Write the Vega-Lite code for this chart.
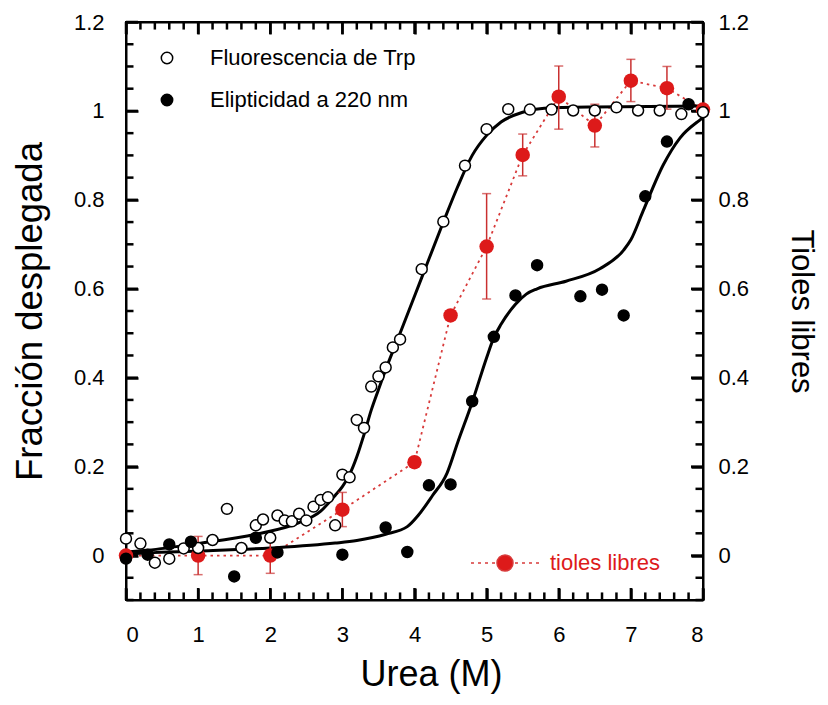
{
  "$schema": "https://vega.github.io/schema/vega-lite/v6.json",
  "width": 577,
  "height": 578,
  "autosize": {"type": "none"},
  "padding": {"left": 126, "top": 22, "right": 125, "bottom": 105},
  "background": "white",
  "config": {
    "view": {"stroke": "black", "strokeWidth": 2},
    "font": "Liberation Sans",
    "axis": {"grid": false, "labelFontSize": 22, "titleFontSize": 34, "labelColor": "black", "titleColor": "black", "titleFontWeight": "normal", "labelFont": "Liberation Sans", "titleFont": "Liberation Sans"}
  },
  "datasets": {
    "marcasX": [
      {"v": 0, "mayor": true}, {"v": 0.2, "mayor": false}, {"v": 0.4, "mayor": false}, {"v": 0.6, "mayor": false}, {"v": 0.8, "mayor": false},
      {"v": 1, "mayor": true}, {"v": 1.2, "mayor": false}, {"v": 1.4, "mayor": false}, {"v": 1.6, "mayor": false}, {"v": 1.8, "mayor": false},
      {"v": 2, "mayor": true}, {"v": 2.2, "mayor": false}, {"v": 2.4, "mayor": false}, {"v": 2.6, "mayor": false}, {"v": 2.8, "mayor": false},
      {"v": 3, "mayor": true}, {"v": 3.2, "mayor": false}, {"v": 3.4, "mayor": false}, {"v": 3.6, "mayor": false}, {"v": 3.8, "mayor": false},
      {"v": 4, "mayor": true}, {"v": 4.2, "mayor": false}, {"v": 4.4, "mayor": false}, {"v": 4.6, "mayor": false}, {"v": 4.8, "mayor": false},
      {"v": 5, "mayor": true}, {"v": 5.2, "mayor": false}, {"v": 5.4, "mayor": false}, {"v": 5.6, "mayor": false}, {"v": 5.8, "mayor": false},
      {"v": 6, "mayor": true}, {"v": 6.2, "mayor": false}, {"v": 6.4, "mayor": false}, {"v": 6.6, "mayor": false}, {"v": 6.8, "mayor": false},
      {"v": 7, "mayor": true}, {"v": 7.2, "mayor": false}, {"v": 7.4, "mayor": false}, {"v": 7.6, "mayor": false}, {"v": 7.8, "mayor": false},
      {"v": 8, "mayor": true}
    ],
    "marcasY": [
      {"v": -0.1, "mayor": false}, {"v": -0.05, "mayor": false}, {"v": 0, "mayor": true}, {"v": 0.05, "mayor": false},
      {"v": 0.1, "mayor": false}, {"v": 0.15, "mayor": false}, {"v": 0.2, "mayor": true}, {"v": 0.25, "mayor": false},
      {"v": 0.3, "mayor": false}, {"v": 0.35, "mayor": false}, {"v": 0.4, "mayor": true}, {"v": 0.45, "mayor": false},
      {"v": 0.5, "mayor": false}, {"v": 0.55, "mayor": false}, {"v": 0.6, "mayor": true}, {"v": 0.65, "mayor": false},
      {"v": 0.7, "mayor": false}, {"v": 0.75, "mayor": false}, {"v": 0.8, "mayor": true}, {"v": 0.85, "mayor": false},
      {"v": 0.9, "mayor": false}, {"v": 0.95, "mayor": false}, {"v": 1.0, "mayor": true}, {"v": 1.05, "mayor": false},
      {"v": 1.1, "mayor": false}, {"v": 1.15, "mayor": false}, {"v": 1.2, "mayor": true}
    ],
    "tioles": [
      {"urea": 0, "f": 0.0, "lo": -0.01, "hi": 0.01, "serie": "tioles libres"},
      {"urea": 1, "f": 0.0, "lo": -0.043, "hi": 0.043, "serie": "tioles libres"},
      {"urea": 2, "f": 0.0, "lo": -0.04, "hi": 0.04, "serie": "tioles libres"},
      {"urea": 3, "f": 0.103, "lo": 0.065, "hi": 0.142, "serie": "tioles libres"},
      {"urea": 4, "f": 0.21, "lo": 0.2, "hi": 0.22, "serie": "tioles libres"},
      {"urea": 4.5, "f": 0.54, "lo": 0.53, "hi": 0.55, "serie": "tioles libres"},
      {"urea": 5, "f": 0.695, "lo": 0.577, "hi": 0.814, "serie": "tioles libres"},
      {"urea": 5.5, "f": 0.901, "lo": 0.854, "hi": 0.948, "serie": "tioles libres"},
      {"urea": 6, "f": 1.032, "lo": 0.959, "hi": 1.101, "serie": "tioles libres"},
      {"urea": 6.5, "f": 0.967, "lo": 0.919, "hi": 1.015, "serie": "tioles libres"},
      {"urea": 7, "f": 1.068, "lo": 1.021, "hi": 1.116, "serie": "tioles libres"},
      {"urea": 7.5, "f": 1.051, "lo": 1.004, "hi": 1.1, "serie": "tioles libres"},
      {"urea": 8, "f": 1.003, "lo": 0.993, "hi": 1.013, "serie": "tioles libres"}
    ],
    "puntos": [
      {"urea": 0, "f": 0.038, "serie": "Fluorescencia de Trp"},
      {"urea": 0.2, "f": 0.027, "serie": "Fluorescencia de Trp"},
      {"urea": 0.4, "f": -0.016, "serie": "Fluorescencia de Trp"},
      {"urea": 0.6, "f": -0.007, "serie": "Fluorescencia de Trp"},
      {"urea": 0.8, "f": 0.016, "serie": "Fluorescencia de Trp"},
      {"urea": 1.0, "f": 0.017, "serie": "Fluorescencia de Trp"},
      {"urea": 1.2, "f": 0.035, "serie": "Fluorescencia de Trp"},
      {"urea": 1.4, "f": 0.105, "serie": "Fluorescencia de Trp"},
      {"urea": 1.6, "f": 0.017, "serie": "Fluorescencia de Trp"},
      {"urea": 1.8, "f": 0.068, "serie": "Fluorescencia de Trp"},
      {"urea": 1.9, "f": 0.081, "serie": "Fluorescencia de Trp"},
      {"urea": 2.0, "f": 0.04, "serie": "Fluorescencia de Trp"},
      {"urea": 2.1, "f": 0.09, "serie": "Fluorescencia de Trp"},
      {"urea": 2.2, "f": 0.079, "serie": "Fluorescencia de Trp"},
      {"urea": 2.3, "f": 0.077, "serie": "Fluorescencia de Trp"},
      {"urea": 2.4, "f": 0.094, "serie": "Fluorescencia de Trp"},
      {"urea": 2.5, "f": 0.079, "serie": "Fluorescencia de Trp"},
      {"urea": 2.6, "f": 0.11, "serie": "Fluorescencia de Trp"},
      {"urea": 2.7, "f": 0.125, "serie": "Fluorescencia de Trp"},
      {"urea": 2.8, "f": 0.131, "serie": "Fluorescencia de Trp"},
      {"urea": 2.9, "f": 0.068, "serie": "Fluorescencia de Trp"},
      {"urea": 3.0, "f": 0.182, "serie": "Fluorescencia de Trp"},
      {"urea": 3.1, "f": 0.176, "serie": "Fluorescencia de Trp"},
      {"urea": 3.2, "f": 0.305, "serie": "Fluorescencia de Trp"},
      {"urea": 3.3, "f": 0.287, "serie": "Fluorescencia de Trp"},
      {"urea": 3.4, "f": 0.38, "serie": "Fluorescencia de Trp"},
      {"urea": 3.5, "f": 0.403, "serie": "Fluorescencia de Trp"},
      {"urea": 3.6, "f": 0.423, "serie": "Fluorescencia de Trp"},
      {"urea": 3.7, "f": 0.468, "serie": "Fluorescencia de Trp"},
      {"urea": 3.8, "f": 0.486, "serie": "Fluorescencia de Trp"},
      {"urea": 4.1, "f": 0.644, "serie": "Fluorescencia de Trp"},
      {"urea": 4.4, "f": 0.751, "serie": "Fluorescencia de Trp"},
      {"urea": 4.7, "f": 0.877, "serie": "Fluorescencia de Trp"},
      {"urea": 5.0, "f": 0.959, "serie": "Fluorescencia de Trp"},
      {"urea": 5.3, "f": 1.004, "serie": "Fluorescencia de Trp"},
      {"urea": 5.6, "f": 1.003, "serie": "Fluorescencia de Trp"},
      {"urea": 5.9, "f": 1.003, "serie": "Fluorescencia de Trp"},
      {"urea": 6.2, "f": 1.001, "serie": "Fluorescencia de Trp"},
      {"urea": 6.5, "f": 1.001, "serie": "Fluorescencia de Trp"},
      {"urea": 6.8, "f": 1.008, "serie": "Fluorescencia de Trp"},
      {"urea": 7.1, "f": 1.001, "serie": "Fluorescencia de Trp"},
      {"urea": 7.4, "f": 1.001, "serie": "Fluorescencia de Trp"},
      {"urea": 7.7, "f": 0.993, "serie": "Fluorescencia de Trp"},
      {"urea": 8.0, "f": 0.997, "serie": "Fluorescencia de Trp"},
      {"urea": 0, "f": -0.007, "serie": "Elipticidad a 220 nm"},
      {"urea": 0.3, "f": 0.002, "serie": "Elipticidad a 220 nm"},
      {"urea": 0.6, "f": 0.025, "serie": "Elipticidad a 220 nm"},
      {"urea": 0.9, "f": 0.031, "serie": "Elipticidad a 220 nm"},
      {"urea": 1.5, "f": -0.047, "serie": "Elipticidad a 220 nm"},
      {"urea": 1.8, "f": 0.04, "serie": "Elipticidad a 220 nm"},
      {"urea": 2.1, "f": 0.007, "serie": "Elipticidad a 220 nm"},
      {"urea": 3.0, "f": 0.002, "serie": "Elipticidad a 220 nm"},
      {"urea": 3.6, "f": 0.063, "serie": "Elipticidad a 220 nm"},
      {"urea": 3.9, "f": 0.008, "serie": "Elipticidad a 220 nm"},
      {"urea": 4.2, "f": 0.158, "serie": "Elipticidad a 220 nm"},
      {"urea": 4.5, "f": 0.16, "serie": "Elipticidad a 220 nm"},
      {"urea": 4.8, "f": 0.347, "serie": "Elipticidad a 220 nm"},
      {"urea": 5.1, "f": 0.492, "serie": "Elipticidad a 220 nm"},
      {"urea": 5.4, "f": 0.585, "serie": "Elipticidad a 220 nm"},
      {"urea": 5.7, "f": 0.653, "serie": "Elipticidad a 220 nm"},
      {"urea": 6.3, "f": 0.583, "serie": "Elipticidad a 220 nm"},
      {"urea": 6.6, "f": 0.598, "serie": "Elipticidad a 220 nm"},
      {"urea": 6.9, "f": 0.54, "serie": "Elipticidad a 220 nm"},
      {"urea": 7.2, "f": 0.808, "serie": "Elipticidad a 220 nm"},
      {"urea": 7.5, "f": 0.931, "serie": "Elipticidad a 220 nm"},
      {"urea": 7.8, "f": 1.015, "serie": "Elipticidad a 220 nm"}
    ],
    "ajustes": [
      {"urea": 0, "f": 0.008, "curva": "fluorescencia"},
      {"urea": 0.3, "f": 0.012, "curva": "fluorescencia"},
      {"urea": 1.0, "f": 0.027, "curva": "fluorescencia"},
      {"urea": 1.8, "f": 0.048, "curva": "fluorescencia"},
      {"urea": 2.4, "f": 0.074, "curva": "fluorescencia"},
      {"urea": 2.7, "f": 0.1, "curva": "fluorescencia"},
      {"urea": 2.9, "f": 0.135, "curva": "fluorescencia"},
      {"urea": 3.0, "f": 0.155, "curva": "fluorescencia"},
      {"urea": 3.1, "f": 0.182, "curva": "fluorescencia"},
      {"urea": 3.2, "f": 0.222, "curva": "fluorescencia"},
      {"urea": 3.3, "f": 0.272, "curva": "fluorescencia"},
      {"urea": 3.4, "f": 0.327, "curva": "fluorescencia"},
      {"urea": 3.5, "f": 0.373, "curva": "fluorescencia"},
      {"urea": 3.6, "f": 0.418, "curva": "fluorescencia"},
      {"urea": 3.8, "f": 0.5, "curva": "fluorescencia"},
      {"urea": 4.1, "f": 0.625, "curva": "fluorescencia"},
      {"urea": 4.4, "f": 0.75, "curva": "fluorescencia"},
      {"urea": 4.6, "f": 0.83, "curva": "fluorescencia"},
      {"urea": 4.8, "f": 0.9, "curva": "fluorescencia"},
      {"urea": 5.0, "f": 0.945, "curva": "fluorescencia"},
      {"urea": 5.2, "f": 0.975, "curva": "fluorescencia"},
      {"urea": 5.5, "f": 0.997, "curva": "fluorescencia"},
      {"urea": 5.8, "f": 1.006, "curva": "fluorescencia"},
      {"urea": 6.5, "f": 1.009, "curva": "fluorescencia"},
      {"urea": 8.0, "f": 1.011, "curva": "fluorescencia"},
      {"urea": 0, "f": 0.003, "curva": "elipticidad"},
      {"urea": 0.3, "f": 0.006, "curva": "elipticidad"},
      {"urea": 1.0, "f": 0.01, "curva": "elipticidad"},
      {"urea": 2.0, "f": 0.017, "curva": "elipticidad"},
      {"urea": 2.9, "f": 0.028, "curva": "elipticidad"},
      {"urea": 3.2, "f": 0.034, "curva": "elipticidad"},
      {"urea": 3.6, "f": 0.048, "curva": "elipticidad"},
      {"urea": 3.9, "f": 0.065, "curva": "elipticidad"},
      {"urea": 4.05, "f": 0.09, "curva": "elipticidad"},
      {"urea": 4.25, "f": 0.135, "curva": "elipticidad"},
      {"urea": 4.45, "f": 0.185, "curva": "elipticidad"},
      {"urea": 4.6, "f": 0.255, "curva": "elipticidad"},
      {"urea": 4.8, "f": 0.345, "curva": "elipticidad"},
      {"urea": 5.0, "f": 0.445, "curva": "elipticidad"},
      {"urea": 5.1, "f": 0.49, "curva": "elipticidad"},
      {"urea": 5.2, "f": 0.52, "curva": "elipticidad"},
      {"urea": 5.4, "f": 0.565, "curva": "elipticidad"},
      {"urea": 5.55, "f": 0.588, "curva": "elipticidad"},
      {"urea": 5.7, "f": 0.6, "curva": "elipticidad"},
      {"urea": 6.1, "f": 0.617, "curva": "elipticidad"},
      {"urea": 6.57, "f": 0.645, "curva": "elipticidad"},
      {"urea": 6.9, "f": 0.687, "curva": "elipticidad"},
      {"urea": 7.0, "f": 0.71, "curva": "elipticidad"},
      {"urea": 7.17, "f": 0.775, "curva": "elipticidad"},
      {"urea": 7.45, "f": 0.879, "curva": "elipticidad"},
      {"urea": 7.68, "f": 0.939, "curva": "elipticidad"},
      {"urea": 7.96, "f": 0.98, "curva": "elipticidad"},
      {"urea": 8.0, "f": 0.985, "curva": "elipticidad"}
    ]
  },
  "layer": [
    {
      "data": {"name": "tioles"},
      "mark": {"type": "line", "color": "#d83a3a", "strokeDash": [2.5, 4], "strokeWidth": 1.8},
      "encoding": {
        "x": {"field": "urea", "type": "quantitative", "scale": {"domain": [0, 8], "nice": false, "zero": false},
          "axis": {"orient": "bottom", "title": "Urea (M)", "titleFontSize": 36, "titleX": 305, "titleAlign": "center",
            "values": [0, 1, 2, 3, 4, 5, 6, 7, 8], "format": "d",
            "domain": true, "domainColor": "black", "domainWidth": 2,
            "ticks": true, "tickSize": -12, "tickColor": "black", "tickWidth": 2.5,
            "labelPadding": 36, "titlePadding": 12}},
        "y": {"field": "f", "type": "quantitative", "scale": {"domain": [-0.1, 1.2], "nice": false, "zero": false},
          "axis": {"orient": "left", "title": "Fracción desplegada", "titleFontSize": 36.5,
            "values": [0, 0.2, 0.4, 0.6, 0.8, 1, 1.2], "format": ".1~f",
            "domain": true, "domainColor": "black", "domainWidth": 2,
            "ticks": true, "tickSize": -12, "tickColor": "black", "tickWidth": 2.5,
            "labelPadding": 34, "titlePadding": 24}}
      }
    },
    {
      "data": {"name": "ajustes"},
      "mark": {"type": "line", "color": "black", "strokeWidth": 3, "interpolate": "monotone"},
      "encoding": {
        "detail": {"field": "curva"},
        "x": {"field": "urea", "type": "quantitative",
          "axis": {"orient": "top", "title": null, "labels": false,
            "values": [0, 1, 2, 3, 4, 5, 6, 7, 8],
            "domain": true, "domainColor": "black", "domainWidth": 2,
            "ticks": true, "tickSize": -12, "tickColor": "black", "tickWidth": 2.5}},
        "y": {"field": "f", "type": "quantitative",
          "axis": {"orient": "right", "title": "Tioles libres", "titleFontSize": 31,
            "values": [0, 0.2, 0.4, 0.6, 0.8, 1, 1.2], "format": ".1~f",
            "domain": true, "domainColor": "black", "domainWidth": 2,
            "ticks": true, "tickSize": -12, "tickColor": "black", "tickWidth": 2.5,
            "labelPadding": 27, "titlePadding": 36}}
      }
    },
    {
      "data": {"name": "marcasX"}, "transform": [{"filter": "datum.mayor"}],
      "mark": {"type": "rule", "color": "black", "strokeWidth": 2.5},
      "encoding": {"x": {"field": "v", "type": "quantitative", "axis": null}, "y": {"datum": -0.1, "type": "quantitative", "axis": null}, "y2": {"datum": -0.073}}
    },
    {
      "data": {"name": "marcasX"}, "transform": [{"filter": "!datum.mayor"}],
      "mark": {"type": "rule", "color": "black", "strokeWidth": 2.5},
      "encoding": {"x": {"field": "v", "type": "quantitative", "axis": null}, "y": {"datum": -0.1, "type": "quantitative", "axis": null}, "y2": {"datum": -0.083}}
    },
    {
      "data": {"name": "marcasX"}, "transform": [{"filter": "datum.mayor"}],
      "mark": {"type": "rule", "color": "black", "strokeWidth": 2.5},
      "encoding": {"x": {"field": "v", "type": "quantitative", "axis": null}, "y": {"datum": 1.2, "type": "quantitative", "axis": null}, "y2": {"datum": 1.173}}
    },
    {
      "data": {"name": "marcasX"}, "transform": [{"filter": "!datum.mayor"}],
      "mark": {"type": "rule", "color": "black", "strokeWidth": 2.5},
      "encoding": {"x": {"field": "v", "type": "quantitative", "axis": null}, "y": {"datum": 1.2, "type": "quantitative", "axis": null}, "y2": {"datum": 1.183}}
    },
    {
      "data": {"name": "marcasY"}, "transform": [{"filter": "datum.mayor"}],
      "mark": {"type": "rule", "color": "black", "strokeWidth": 2.5},
      "encoding": {"y": {"field": "v", "type": "quantitative", "axis": null}, "x": {"datum": 0, "type": "quantitative", "axis": null}, "x2": {"datum": 0.166}}
    },
    {
      "data": {"name": "marcasY"}, "transform": [{"filter": "!datum.mayor"}],
      "mark": {"type": "rule", "color": "black", "strokeWidth": 2.5},
      "encoding": {"y": {"field": "v", "type": "quantitative", "axis": null}, "x": {"datum": 0, "type": "quantitative", "axis": null}, "x2": {"datum": 0.104}}
    },
    {
      "data": {"name": "marcasY"}, "transform": [{"filter": "datum.mayor"}],
      "mark": {"type": "rule", "color": "black", "strokeWidth": 2.5},
      "encoding": {"y": {"field": "v", "type": "quantitative", "axis": null}, "x": {"datum": 8, "type": "quantitative", "axis": null}, "x2": {"datum": 7.834}}
    },
    {
      "data": {"name": "marcasY"}, "transform": [{"filter": "!datum.mayor"}],
      "mark": {"type": "rule", "color": "black", "strokeWidth": 2.5},
      "encoding": {"y": {"field": "v", "type": "quantitative", "axis": null}, "x": {"datum": 8, "type": "quantitative", "axis": null}, "x2": {"datum": 7.896}}
    },
    {
      "data": {"name": "tioles"},
      "mark": {"type": "errorbar", "color": "#c93030", "thickness": 1.5, "ticks": {"size": 9, "thickness": 1.5}},
      "encoding": {
        "x": {"field": "urea", "type": "quantitative", "axis": null},
        "y": {"field": "lo", "type": "quantitative", "axis": null},
        "y2": {"field": "hi"}
      }
    },
    {
      "data": {"name": "tioles"},
      "mark": {"type": "point", "filled": true, "size": 210, "opacity": 1},
      "encoding": {
        "x": {"field": "urea", "type": "quantitative", "axis": null},
        "y": {"field": "f", "type": "quantitative", "axis": null},
        "color": {"field": "serie", "type": "nominal", "scale": {"range": ["#dd1a1a"]},
          "legend": {"orient": "none", "legendX": 344, "legendY": 506, "title": null, "padding": 0,
            "symbolType": "M-1,0L-0.912,0M-0.794,0L-0.706,0M-0.588,0L-0.5,0M-0.382,0L-0.294,0M0.294,0L0.382,0M0.5,0L0.588,0M0.706,0L0.794,0M0.912,0L1,0M0.236,0A0.236,0.236,0,1,1,-0.236,0A0.236,0.236,0,1,1,0.236,0Z",
            "symbolSize": 4624, "symbolStrokeWidth": 1.5, "symbolStrokeColor": "#d83a3a", "symbolFillColor": "#dd1a1a",
            "labelFontSize": 22, "labelColor": "#dd1a1a", "labelOffset": 10, "labelLimit": 400,
            "encode": {"symbols": {"update": {"stroke": {"value": "#d83a3a"}, "strokeWidth": {"value": 1.5}, "fill": {"value": "#dd1a1a"}, "opacity": {"value": 1}}}}}}
      }
    },
    {
      "data": {"name": "puntos"},
      "mark": {"type": "point", "shape": "circle", "size": 120, "stroke": "black", "strokeWidth": 1.5, "opacity": 1},
      "encoding": {
        "x": {"field": "urea", "type": "quantitative", "axis": null},
        "y": {"field": "f", "type": "quantitative", "axis": null},
        "fill": {"field": "serie", "type": "nominal",
          "scale": {"domain": ["Fluorescencia de Trp", "Elipticidad a 220 nm"], "range": ["white", "black"]},
          "legend": {"orient": "none", "legendX": 30, "legendY": 25, "title": null, "padding": 0,
            "symbolType": "circle", "symbolSize": 130, "symbolStrokeColor": "black", "symbolStrokeWidth": 1.5,
            "labelFontSize": 22, "labelColor": "black", "labelOffset": 32, "rowPadding": 20, "labelLimit": 400,
            "encode": {"symbols": {"update": {"stroke": {"value": "black"}, "strokeWidth": {"value": 1.5}, "opacity": {"value": 1}}}}}}
      }
    }
  ],
  "resolve": {"axis": {"x": "independent", "y": "independent"}}
}
